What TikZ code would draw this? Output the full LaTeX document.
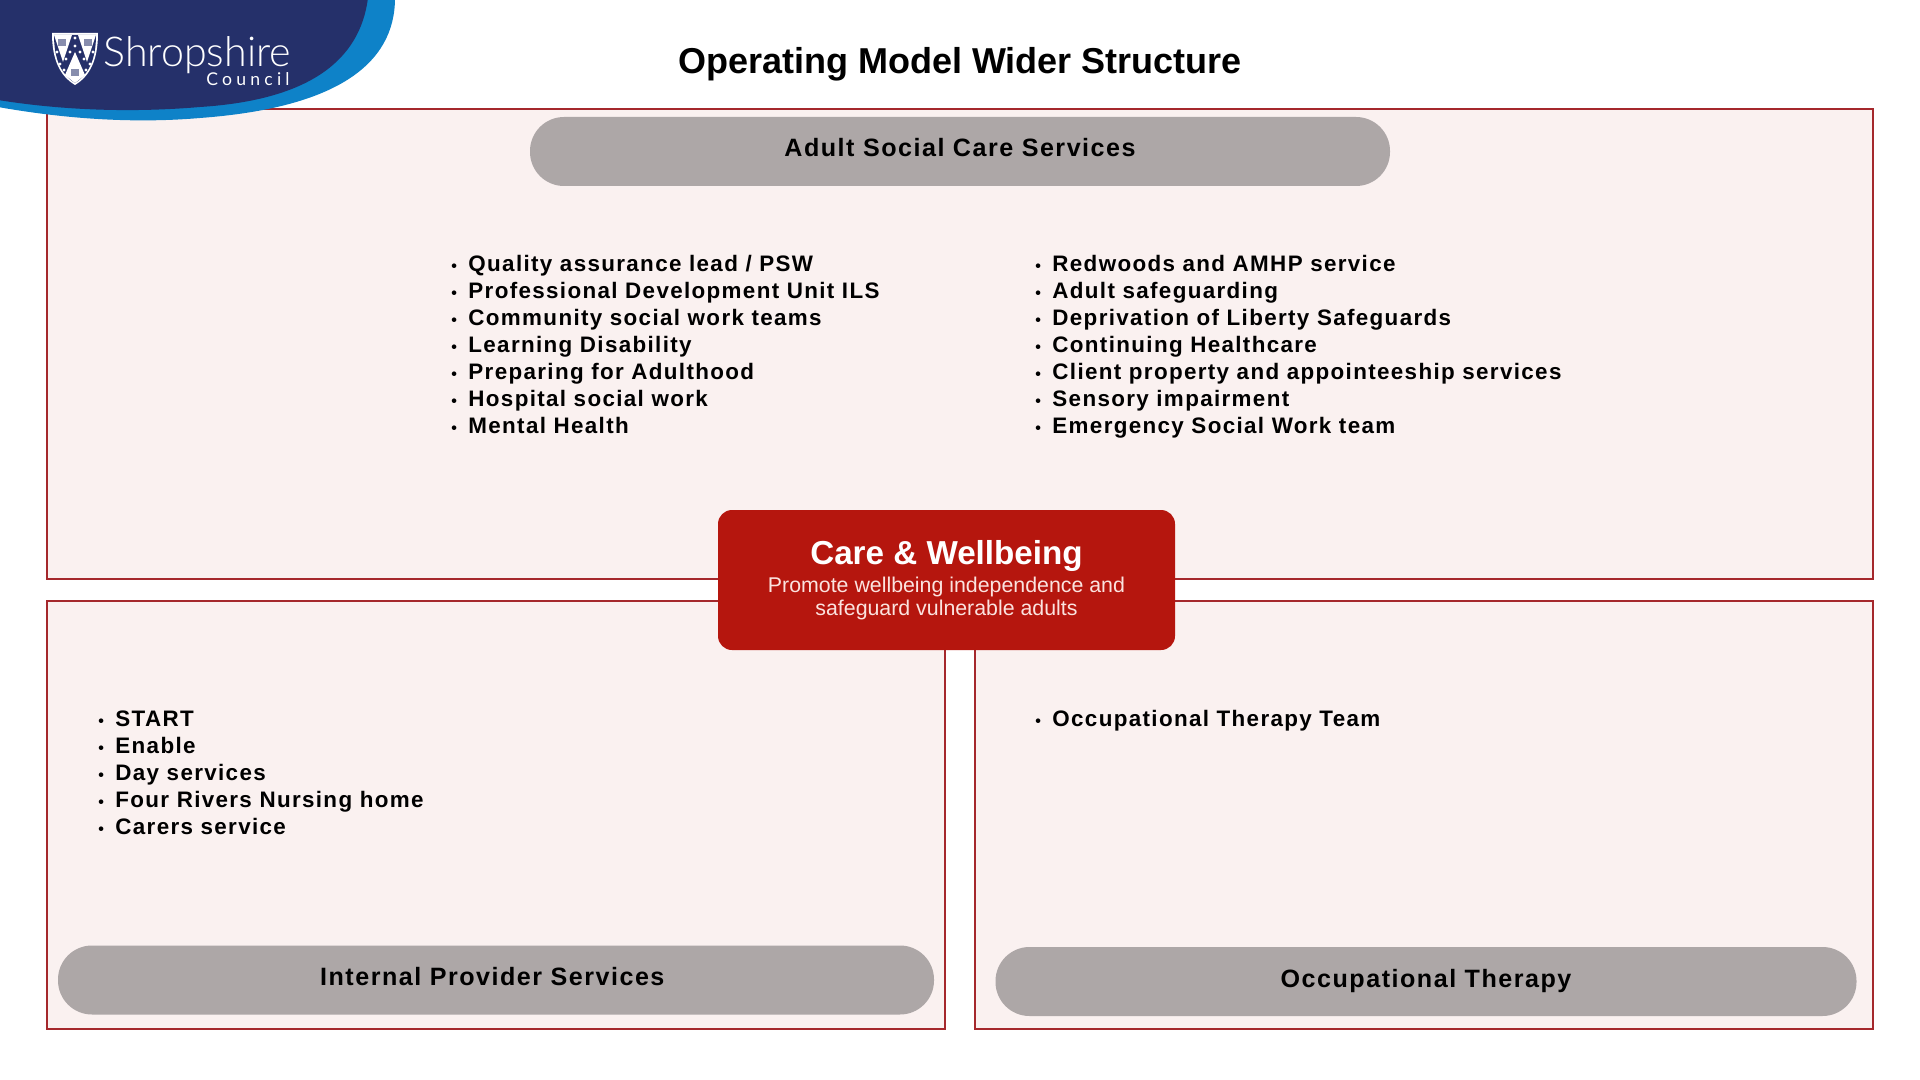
\documentclass[tikz,border=0pt]{standalone}
\usepackage{fontspec}
\setmainfont{Liberation Sans}
\newfontfamily\spaced[LetterSpace=6]{Liberation Sans}
\newfontfamily\logofont{Lato Light}
\newfontfamily\logospaced[LetterSpace=24]{Lato}
\definecolor{panelfill}{HTML}{FAF1F0}
\definecolor{paneldraw}{HTML}{A5282C}
\definecolor{pillfill}{HTML}{ADA7A7}
\definecolor{carered}{HTML}{B5160E}
\definecolor{carepale}{HTML}{FBE3DF}
\definecolor{logonavy}{HTML}{25306A}
\definecolor{logoblue}{HTML}{0E82C8}
\newcommand{\bul}{\makebox[8.5pt][l]{\fontsize{8}{8}\selectfont•}}
\begin{document}
\begin{tikzpicture}[x=0.5pt, y=-0.5pt]
\tikzset{panel/.style={rectangle, draw=paneldraw, fill=panelfill, line width=0.8pt, inner sep=0pt},
pill/.style={rectangle, rounded corners=17pt, fill=pillfill, inner sep=0pt, minimum height=34.5pt, font=\spaced\bfseries\fontsize{12.55}{15}\selectfont},
item/.style={anchor=base west, inner sep=0pt, font=\spaced\bfseries\fontsize{11.2}{13}\selectfont}};

\useasboundingbox (0,0) rectangle (1920,1080);

\node[panel, minimum width=913pt, minimum height=235pt] (asc) at (960,344) {};
\node[panel, minimum width=449pt, minimum height=214pt] (ips) at (496,815) {};
\node[panel, minimum width=449pt, minimum height=214pt] (ot) at (1424,815) {};

\node[pill, minimum width=430pt] (asctitle) at (960,151.5) {\raisebox{4.5pt}{Adult Social Care Services}};
\node[pill, minimum width=438pt] (ipstitle) at (496,980) {\hspace*{-3.7pt}\raisebox{3.9pt}{Internal Provider Services}};
\node[pill, minimum width=430.5pt] (ottitle) at (1426,981.5) {\raisebox{3pt}{Occupational Therapy}};

\node[font=\bfseries\fontsize{18}{22}\selectfont, inner sep=0pt] (title) at (960,64.5) {Operating Model Wider Structure};

\foreach \txt [count=\i] in {Quality assurance lead / PSW, Professional Development Unit ILS, Community social work teams, Learning Disability, Preparing for Adulthood, Hospital social work, Mental Health} {
	\node[item] (a\i) at (451,{244.5+27*\i}) {\bul\txt};
}
\foreach \txt [count=\i] in {Redwoods and AMHP service, Adult safeguarding, Deprivation of Liberty Safeguards, Continuing Healthcare, Client property and appointeeship services, Sensory impairment, Emergency Social Work team} {
	\node[item] (b\i) at (1035,{244.5+27*\i}) {\bul\txt};
}
\foreach \txt [count=\i] in {START, Enable, Day services, Four Rivers Nursing home, Carers service} {
	\node[item] (c\i) at (98,{699+27*\i}) {\bul\txt};
}
\node[item] (d1) at (1035,726) {\bul Occupational Therapy Team};

% logo
\fill[logoblue] (395,-2) .. controls (395,65) and (335,108) .. (200,118) .. controls (130,124) and (60,118) .. (-2,107) -- (-2,-2) -- cycle;
\fill[logonavy] (368,-2) .. controls (360,60) and (310,100) .. (200,107) .. controls (130,113) and (60,110) .. (-2,100) -- (-2,-2) -- cycle;
\fill[white] (52,33) -- (98,33) .. controls (98,60) and (90,76) .. (75,85) .. controls (60,76) and (52,60) .. (52,33) -- cycle;
\fill[logonavy] (54,35) -- (96,35) .. controls (96,59) and (89,74) .. (75,83) .. controls (61,74) and (54,59) .. (54,35) -- cycle;
\fill[white] (54,35) -- (72,35) -- (63,62) -- cycle;
\fill[white] (78,35) -- (96,35) -- (87,62) -- cycle;
\fill[white] (75,52) -- (85,75) -- (75,83) -- (65,75) -- cycle;
\foreach \x/\y in {75/38, 75/46, 70/52, 80/52, 66/59, 84/59, 57/52, 93/52, 60/64, 90/64, 64/70, 86/70} {
	\fill[white] (\x,\y) circle (0.8pt);
}
\foreach \x/\y in {62/42, 88/42, 75/72} {
	\fill[logonavy!55] (\x-4,\y-3) rectangle (\x+4,\y+4);
}
\node[font=\logofont\fontsize{20.6}{24}\selectfont, text=white, anchor=base west, inner sep=0pt] (shire) at (103,67) {Shropshire};
\node[font=\logospaced\fontsize{8.8}{10}\selectfont, text=white, anchor=base east, inner sep=0pt] (council) at (290,86) {Council};

\node[rectangle, rounded corners=7pt, fill=carered, minimum width=228.5pt, minimum height=70pt, inner sep=0pt] (care) at (946.5,580) {};
\node[font=\bfseries\fontsize{16.6}{20}\selectfont, text=white, inner sep=0pt] (caretitle) at (946.5,555.5) {Care \& Wellbeing};
\node[font=\fontsize{10.67}{11.5}\selectfont, text=carepale, align=center, inner sep=0pt] (caretext) at (946.5,598) {Promote wellbeing independence and\\safeguard vulnerable adults};

\end{tikzpicture}
\end{document}
